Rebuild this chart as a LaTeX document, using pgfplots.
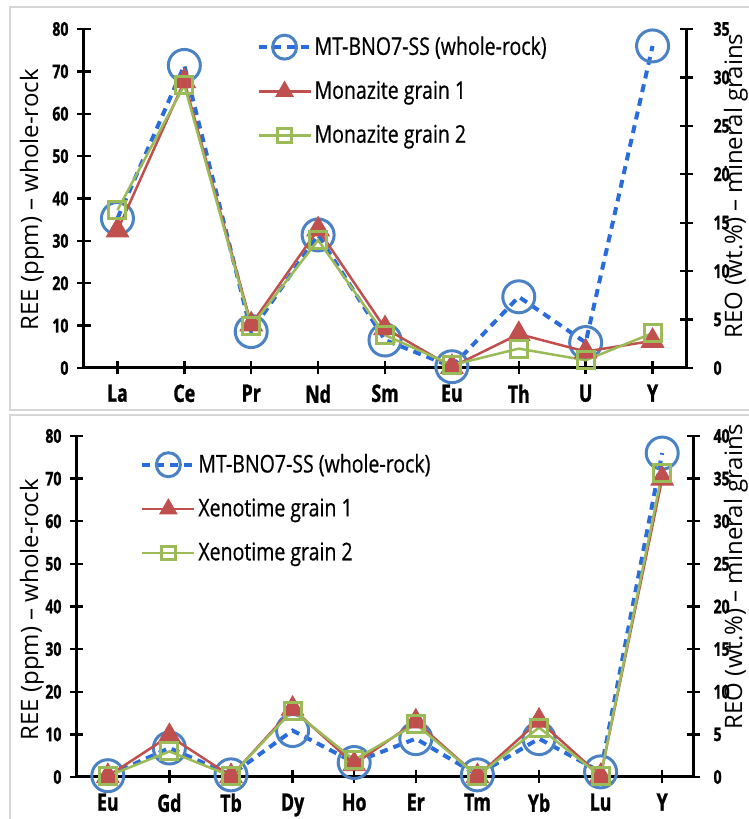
\documentclass[border=0pt]{standalone}
\usepackage{fontspec}
\setmainfont{Open Sans}
\newfontfamily\condreg[FakeStretch=0.8, FakeBold=0.6]{Open Sans}
\newfontfamily\condbold[FakeStretch=0.74, BoldFeatures={FakeBold=1.2}]{Open Sans}
\usepackage{pgfplots}
\pgfplotsset{compat=1.18}

\definecolor{wrline}{RGB}{42,108,220}
\definecolor{wrmark}{RGB}{74,130,196}
\definecolor{mred}{RGB}{192,80,77}
\definecolor{mgreen}{RGB}{155,187,89}
\definecolor{boxgray}{RGB}{214,214,214}

\pgfplotsset{
  wr/.style={wrline, line width=2pt, dash pattern=on 4pt off 3pt,
    mark=o, mark size=8pt, mark options={solid, draw=wrmark, line width=1.5pt}},
  ga/.style={mred, line width=1.25pt, mark=triangle*, mark size=6.5pt,
    mark options={solid, fill=mred, draw=mred, line width=0.4pt}},
  gb/.style={mgreen, line width=1.25pt, mark=square, mark size=4.25pt,
    mark options={solid, draw=mgreen, line width=1.5pt}},
  base/.style={
    scale only axis, clip=false, ymin=0,
    /pgf/number format/assume math mode=true,
    axis line style={black, line width=1.5pt},
    tick style={black, line width=1.2pt},
    tick align=center, major tick length=6.5pt,
    tick label style={font=\condbold\bfseries\fontsize{9.5pt}{10pt}\selectfont},
    xticklabel style={font=\condbold\bfseries\fontsize{12pt}{12pt}\selectfont, yshift=-1.5pt},
    label style={font=\fontsize{12pt}{14pt}\selectfont},
    legend cell align=left,
    legend image code/.code={\draw[mark repeat=2,mark phase=2] plot coordinates {(0pt,0pt)(13pt,0pt)(26pt,0pt)};},
  },
}

\begin{document}
\begin{tikzpicture}
\useasboundingbox (0,0) rectangle (374.5pt,409.5pt);
\clip (0,0) rectangle (374.5pt,409.5pt);

% panel frames
\draw[boxgray, line width=1pt] (5pt,204.5pt) rectangle (390pt,406pt);
\draw[boxgray, line width=1pt] (5pt,-10pt) rectangle (390pt,202pt);

% ---------------- top panel ----------------
\begin{axis}[base, at={(42pt,225.5pt)}, anchor=south west,
  width=301pt, height=169.5pt,
  xmin=-0.5, xmax=8.5, ymax=80,
  xtick={0,...,8}, xticklabels={La,Ce,Pr,Nd,Sm,Eu,Th,U,Y},
  ytick={0,10,...,80},
  axis x line*=bottom, axis y line*=left,
  yticklabel style={xshift=-1pt},
  ylabel={REE (ppm) -- whole-rock},
  ylabel style={at={(rel axis cs:0,0.496)}, anchor=center, rotate=0, yshift=26pt},
]
\addplot[wr] coordinates {(0,35.3)(1,71.4)(2,8.6)(3,31.4)(4,6.6)(5,0.3)(6,16.8)(7,6.0)(8,76.0)};
\end{axis}

\begin{axis}[base, at={(42pt,225.5pt)}, anchor=south west,
  width=301pt, height=169.5pt,
  xmin=-0.5, xmax=8.5, ymax=35,
  ytick={0,5,...,35},
  axis x line=none, axis y line*=right,
  yticklabel style={xshift=7pt},
  ylabel={REO (wt.\%) -- mineral grains},
  ylabel style={at={(rel axis cs:1,0.537)}, anchor=center, rotate=0, yshift=-25pt},
  legend style={at={(0.276,1.003)}, anchor=north west, draw=none, fill=none,
    font=\condreg\fontsize{12.2pt}{13pt}\selectfont, row sep=7.5pt,
    nodes={inner xsep=1pt}},
]
\addlegendimage{wr, mark size=6pt}
\addlegendentry{MT-BNO7-SS (whole-rock)}
\addlegendimage{ga, mark size=5pt}
\addlegendentry{Monazite grain 1}
\addlegendimage{gb, mark size=3.4pt}
\addlegendentry{Monazite grain 2}
\addplot[ga, forget plot] coordinates {(0,14.2)(1,29.6)(2,4.5)(3,14.3)(4,4.1)(5,0.1)(6,3.5)(7,1.7)(8,2.8)};
\addplot[gb, forget plot] coordinates {(0,16.3)(1,29.2)(2,4.3)(3,13.2)(4,3.4)(5,0.3)(6,2.0)(7,0.8)(8,3.6)};
\end{axis}

% ---------------- bottom panel ----------------
\begin{scope}
\clip (0,0) rectangle (374.5pt,202pt);
\begin{axis}[base, at={(38.5pt,21pt)}, anchor=south west,
  width=308pt, height=170.5pt,
  xmin=-0.5, xmax=9.5, ymax=80,
  xtick={0,...,9}, xticklabels={Eu,Gd,Tb,Dy,Ho,Er,Tm,Yb,Lu,Y},
  ytick={0,10,...,80},
  axis x line*=bottom, axis y line*=left,
  yticklabel style={xshift=-1pt},
  ylabel={REE (ppm) -- whole-rock},
  ylabel style={at={(rel axis cs:0,0.49)}, anchor=center, rotate=0, yshift=22.5pt},
]
\addplot[wr] coordinates {(0,0.3)(1,6.8)(2,0.5)(3,10.9)(4,3.4)(5,9.0)(6,0.5)(7,9.0)(8,1.2)(9,76.0)};
\end{axis}

\begin{axis}[base, at={(38.5pt,21pt)}, anchor=south west,
  width=308pt, height=170.5pt,
  xmin=-0.5, xmax=9.5, ymax=40,
  ytick={0,5,...,40},
  axis x line=none, axis y line*=right,
  yticklabel style={xshift=3.5pt},
  ylabel={REO (wt.\%) -- mineral grains},
  ylabel style={at={(rel axis cs:1,0.587)}, anchor=center, rotate=0, yshift=-21.5pt},
  legend style={at={(0.0925,0.972)}, anchor=north west, draw=none, fill=none,
    font=\condreg\fontsize{12.2pt}{13pt}\selectfont, row sep=7.5pt,
    nodes={inner xsep=1pt}},
]
\addlegendimage{wr, mark size=6pt}
\addlegendentry{MT-BNO7-SS (whole-rock)}
\addlegendimage{ga, mark size=5pt}
\addlegendentry{Xenotime grain 1}
\addlegendimage{gb, mark size=3.4pt}
\addlegendentry{Xenotime grain 2}
\addplot[ga, forget plot] coordinates {(0,0.1)(1,4.8)(2,0.1)(3,8.0)(4,1.5)(5,6.5)(6,0.1)(7,6.6)(8,0.1)(9,35.0)};
\addplot[gb, forget plot] coordinates {(0,0.1)(1,3.0)(2,0.1)(3,7.8)(4,2.0)(5,6.2)(6,0.1)(7,5.8)(8,0.1)(9,35.7)};
\end{axis}
\end{scope}
\end{tikzpicture}
\end{document}
